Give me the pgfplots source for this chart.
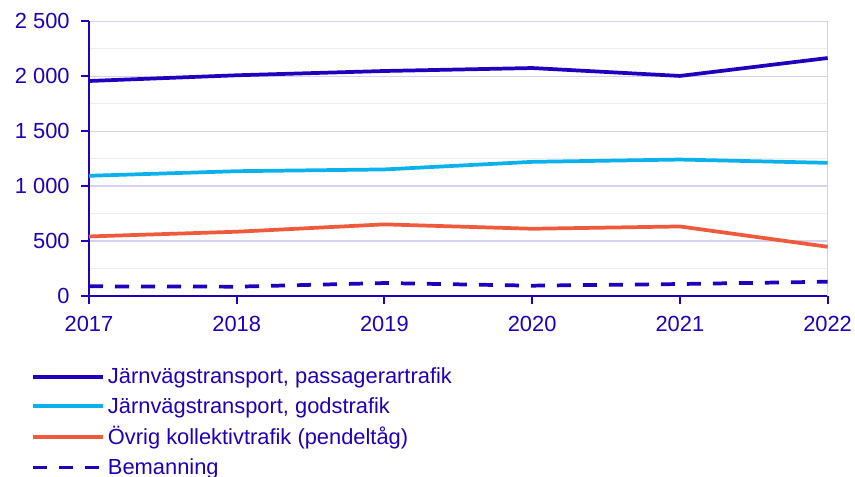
\documentclass[border=0pt]{standalone}
\usepackage{pgfplots}
\pgfplotsset{compat=1.18}
\usepackage{fontspec}
\setmainfont{Liberation Sans}
\definecolor{scbblue}{HTML}{1E00BE}
\definecolor{scblight}{HTML}{0AB1EA}
\definecolor{scborange}{HTML}{F05A3C}
\definecolor{gridmaj}{HTML}{D4D2F0}
\definecolor{gridmin}{HTML}{EEEEEE}
\begin{document}
\begin{tikzpicture}
\begin{axis}[
  scale only axis,
  width=554pt, height=206pt,
  xmin=2017, xmax=2022, ymin=0, ymax=2500,
  axis x line*=bottom, axis y line*=left,
  axis line style={scbblue, line width=1.5pt},
  xtick={2017,...,2022},
  xticklabels={2017,2018,2019,2020,2021,2022},
  ytick={0,500,...,2500},
  yticklabels={0,500,1 000,1 500,2 000,2 500},
  minor ytick={250,750,...,2250},
  ymajorgrids, yminorgrids,
  major grid style={gridmaj, line width=1pt},
  minor grid style={gridmin, line width=1pt},
  tick style={scbblue, line width=1.5pt},
  major tick length=6pt,
  minor tick length=0pt,
  tick align=outside,
  ticklabel style={font=\fontsize{16.4}{18}\selectfont, text=scbblue},
  xticklabel style={yshift=-6pt},
  yticklabel style={xshift=-5pt},
  legend style={draw=none, fill=none, at={(-0.079,-0.242)}, anchor=north west,
    font=\fontsize{16.4}{18}\selectfont, text=scbblue, row sep=4.6pt,
    legend cell align=left, inner xsep=0pt},
  legend image code/.code={\draw[#1] (0pt,0pt) -- (53pt,0pt);},
  clip=false,
]
\draw[gridmaj, line width=1pt] (axis cs:2022,0) -- (axis cs:2022,2500);
\addplot[scbblue, line width=2.8pt] coordinates {(2017,1957) (2018,2009) (2019,2048) (2020,2075) (2021,2003) (2022,2166)};
\addlegendentry{Järnvägstransport, passagerartrafik}
\addplot[scblight, line width=2.8pt] coordinates {(2017,1094) (2018,1136) (2019,1152) (2020,1221) (2021,1242) (2022,1212)};
\addlegendentry{Järnvägstransport, godstrafik}
\addplot[scborange, line width=2.8pt] coordinates {(2017,542) (2018,585) (2019,652) (2020,612) (2021,633) (2022,448)};
\addlegendentry{Övrig kollektivtrafik (pendeltåg)}
\addplot[scbblue, line width=2.8pt, dash pattern=on 10.5pt off 9pt] coordinates {(2017,88) (2018,85) (2019,118) (2020,94) (2021,109) (2022,130)};
\addlegendentry{Bemanning}
\end{axis}
\pgfresetboundingbox
\useasboundingbox (-66.75pt,-135.75pt) rectangle (574.5pt,222pt);
\end{tikzpicture}
\end{document}
